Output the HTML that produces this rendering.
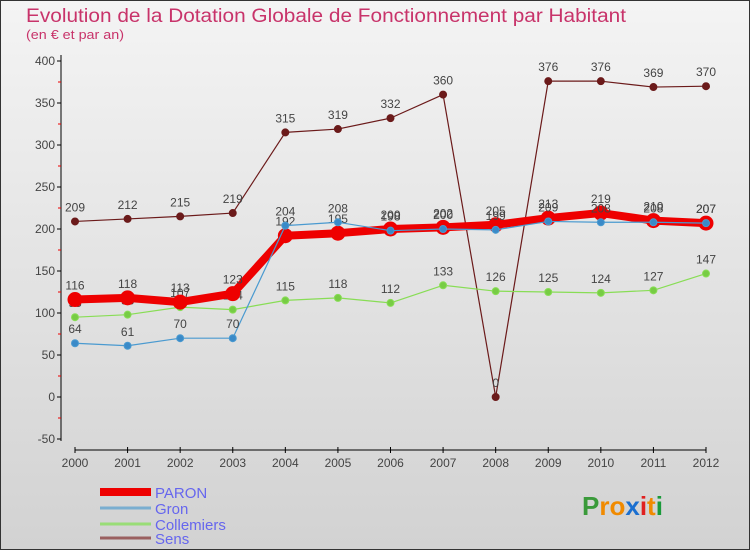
<!DOCTYPE html>
<html><head><meta charset="utf-8"><style>
body{margin:0;width:750px;height:550px;overflow:hidden;font-family:"Liberation Sans",sans-serif}
</style></head><body>
<svg width="750" height="550" xmlns="http://www.w3.org/2000/svg">
<defs><linearGradient id="bg" x1="0" y1="0" x2="0" y2="1"><stop offset="0" stop-color="#f4f4f4"/><stop offset="1" stop-color="#d2d2d2"/></linearGradient></defs>
<rect x="0.5" y="0.5" width="749" height="549" fill="url(#bg)" stroke="#333"/>
<text x="26" y="22" font-size="19" fill="#c8336a" textLength="600" lengthAdjust="spacingAndGlyphs">Evolution de la Dotation Globale de Fonctionnement par Habitant</text>
<text x="26" y="39" font-size="13" fill="#c8336a" textLength="98" lengthAdjust="spacingAndGlyphs">(en € et par an)</text>
<g id="axes"></g>
<g id="series"></g>
<g id="legend"></g>
<text x="582" y="515" font-size="26" font-weight="bold"><tspan fill="#3a9a3a">P</tspan><tspan fill="#f08a00">ro</tspan><tspan fill="#1a6fd0">x</tspan><tspan fill="#e02020">i</tspan><tspan fill="#f08a00">t</tspan><tspan fill="#1a9a3a">i</tspan></text>
</svg>
<script>
const years=[2000,2001,2002,2003,2004,2005,2006,2007,2008,2009,2010,2011,2012];
const yTicks=[-50,0,50,100,150,200,250,300,350,400];
const paron=[116,118,113,123,192,195,200,202,205,213,219,210,207];
const gron=[64,61,70,70,204,208,198,200,199,209,208,208,207];
const collemiers=[95,98,107,104,115,118,112,133,126,125,124,127,147];
const sens=[209,212,215,219,315,319,332,360,0,376,376,369,370];
const NS="http://www.w3.org/2000/svg";
const X=i=>75+i*(706-75)/12;
const Y=v=>397-v*0.84;
function mk(tag,attrs,parent){const e=document.createElementNS(NS,tag);for(const k in attrs)e.setAttribute(k,attrs[k]);parent.appendChild(e);return e;}
const ax=document.getElementById('axes');
let a=mk('line',{x1:61,y1:55,x2:61,y2:441,stroke:'#000'},ax);


a=mk('line',{x1:75,y1:450,x2:706,y2:450,stroke:'#000'},ax);


yTicks.forEach((v,i)=>{
  mk('line',{x1:57,y1:Y(v),x2:61,y2:Y(v),stroke:'#000'},ax);
  if(i<yTicks.length-1)mk('line',{x1:58,y1:Y(v+25),x2:61,y2:Y(v+25),stroke:'#e00'},ax);
  const t=mk('text',{x:55,y:Y(v)+4,'font-size':12,'text-anchor':'end',fill:'#444'},ax);
  t.textContent=v;
  
  
});
years.forEach((y,i)=>{
  mk('line',{x1:X(i),y1:447,x2:X(i),y2:453,stroke:'#000'},ax);
  const t=mk('text',{x:X(i),y:467,'font-size':12,'text-anchor':'middle',fill:'#444'},ax);
  t.textContent=y;
  
  
});
const sg=document.getElementById('series');
function draw(vals,color,w,r,name,dot){
  const g=mk('g',{},sg);
  
  
  const p=mk('polyline',{points:vals.map((v,i)=>X(i)+','+Y(v)).join(' '),fill:'none',stroke:color,'stroke-width':w,'stroke-linejoin':'round'},g);
  
  
  vals.forEach((v,i)=>{
    const c=mk('circle',{cx:X(i),cy:Y(v),r:r,fill:dot,stroke:color,'stroke-width':1},g);
    
    
    const t=mk('text',{x:X(i),y:Y(v)-10,'font-size':12,'text-anchor':'middle',fill:'#444'},g);
    t.textContent=v;
    
    
  });
}
draw(sens,'#6b1a1a',1.2,3.5,'sens','#6b1a1a');
draw(collemiers,'#88dd55',1.2,3.5,'collemiers','#77cc44');
draw(paron,'#ee0000',8,7,'paron','#ee0000');
draw(gron,'#4a9ad0',1.2,3.5,'gron','#3a8ac8');
const lg=document.getElementById('legend');
[['PARON','#ee0000',8],['Gron','#7aaed0',3],['Collemiers','#99dd77',3],['Sens','#9a6060',3]].forEach((d,i)=>{
  const y=[492,508,524,538][i];
  const l=mk('line',{x1:100,y1:y,x2:151,y2:y,stroke:d[1],'stroke-width':d[2]},lg);
  
  
  const t=mk('text',{x:155,y:y+6,'font-size':15,fill:'#6666ee'},lg);
  t.textContent=d[0];
  
  
});
</script>
</body></html>
